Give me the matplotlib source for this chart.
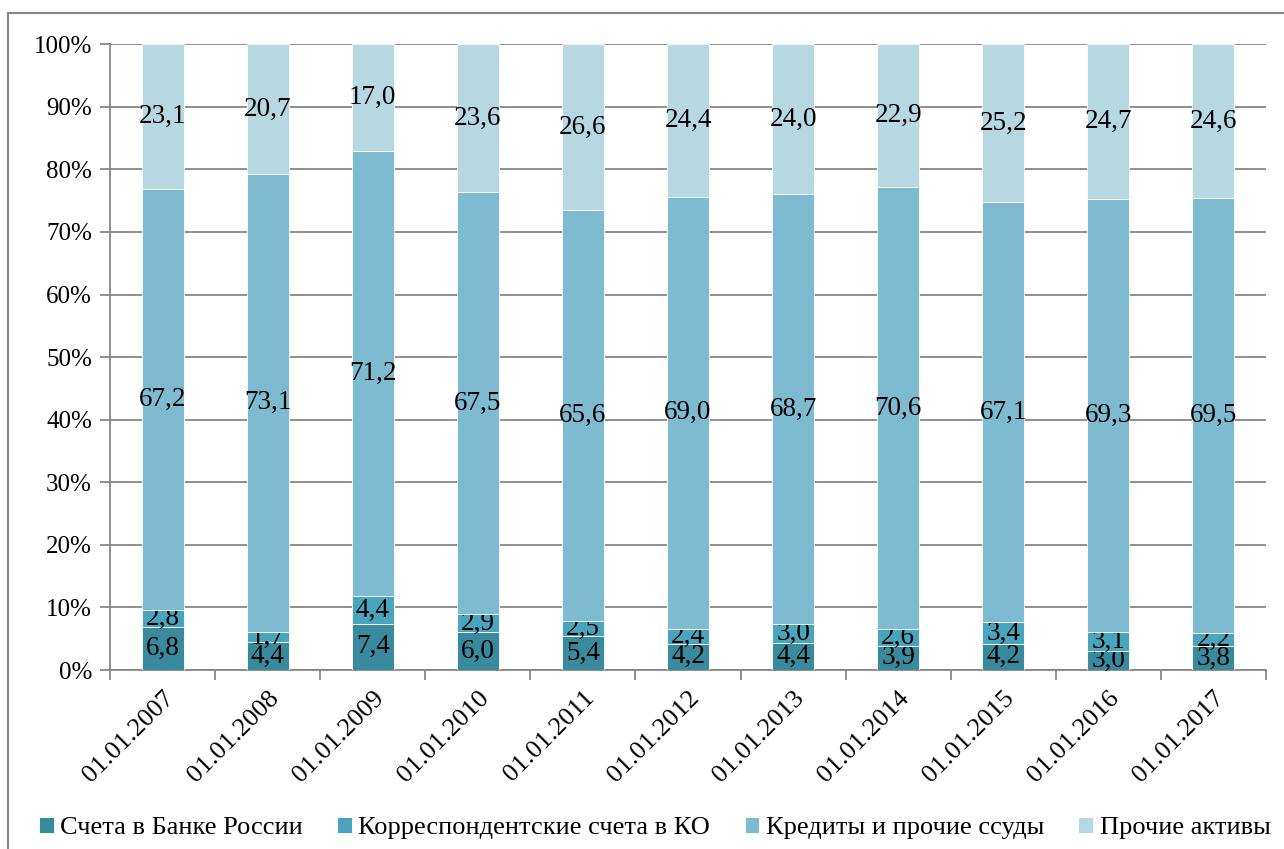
import matplotlib.pyplot as plt
import numpy as np
from matplotlib.patches import Rectangle

plt.rcParams['font.family'] = ['Liberation Serif', 'DejaVu Serif']

dates = ['01.01.2007', '01.01.2008', '01.01.2009', '01.01.2010', '01.01.2011', '01.01.2012',
         '01.01.2013', '01.01.2014', '01.01.2015', '01.01.2016', '01.01.2017']
scheta_br = [6.8, 4.4, 7.4, 6.0, 5.4, 4.2, 4.4, 3.9, 4.2, 3.0, 3.8]
korr_ko = [2.8, 1.7, 4.4, 2.9, 2.5, 2.4, 3.0, 2.6, 3.4, 3.1, 2.2]
kredity = [67.2, 73.1, 71.2, 67.5, 65.6, 69.0, 68.7, 70.6, 67.1, 69.3, 69.5]
prochie = [23.1, 20.7, 17.0, 23.6, 26.6, 24.4, 24.0, 22.9, 25.2, 24.7, 24.6]

names = ['Счета в Банке России', 'Корреспондентские счета в КО',
         'Кредиты и прочие ссуды', 'Прочие активы']
colors = ['#3a8a9d', '#4aa4bb', '#7fbbd0', '#b7d7e2']

series = np.array([scheta_br, korr_ko, kredity, prochie])
shares = series / series.sum(axis=0) * 100  # доли в процентах

fig = plt.figure(figsize=(12.84, 8.49), dpi=100)
ax = fig.add_axes([0.0857, 0.2108, 0.9003, 0.7372])

x = np.arange(len(dates))
bottom = np.zeros(len(dates))
for i in range(4):
    bars = ax.bar(x, shares[i], 0.4, bottom=bottom, color=colors[i], label=names[i],
                  edgecolor='white', linewidth=0.6, zorder=3)
    labels = ['{:.1f}'.format(v).replace('.', ',') for v in series[i]]
    ax.bar_label(bars, labels=labels, label_type='center', fontsize=19.5, color='black')
    bottom += shares[i]

ax.set_ylim(0, 100)
ax.set_xlim(-0.5, len(dates) - 0.5)
ax.set_yticks(np.arange(0, 101, 10))
ax.set_yticklabels(['{}%'.format(v) for v in range(0, 101, 10)], fontsize=18)
ax.yaxis.grid(True, color='#868686', linewidth=1.3, zorder=0)
ax.tick_params(axis='y', length=7, width=1.3, color='#868686', pad=6)

ax.set_xticks(x)
ax.set_xticklabels(dates, rotation=45, ha='right', rotation_mode='anchor', fontsize=19)
ax.tick_params(axis='x', length=0, pad=12)
ax.set_xticks(np.arange(-0.5, len(dates), 1), minor=True)
ax.tick_params(axis='x', which='minor', length=7, width=1.3, color='#868686')

for s in ['top', 'right']:
    ax.spines[s].set_visible(False)
for s in ['left', 'bottom']:
    ax.spines[s].set_color('#868686')
    ax.spines[s].set_linewidth(1.3)

fig.legend(loc='center', bbox_to_anchor=(0.51, 0.025), ncol=4, frameon=False,
           fontsize=19, handlelength=0.55, handleheight=0.55, handletextpad=0.25,
           columnspacing=1.3)

# рамка вокруг диаграммы
fig.patches.append(Rectangle((8 / 1284, -0.05), 1.1, 1 - 13 / 849 + 0.05,
                             transform=fig.transFigure, fill=False,
                             edgecolor='#868686', linewidth=1.5, clip_on=False))

fig.savefig('out.png', dpi=100)
